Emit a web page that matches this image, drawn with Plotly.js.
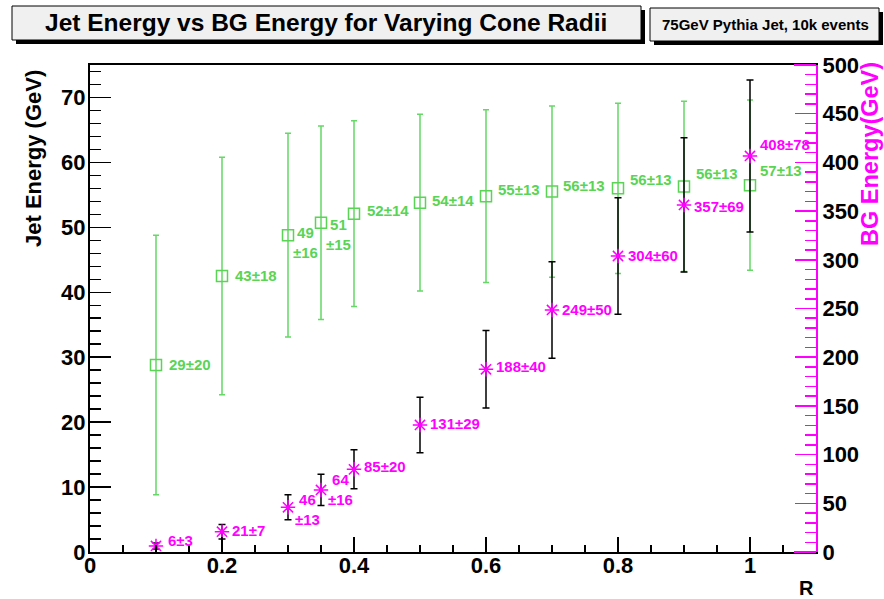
<!DOCTYPE html>
<html>
<head>
<meta charset="utf-8">
<script src="https://cdn.plot.ly/plotly-3.0.1.min.js"></script>
<style>html,body{margin:0;padding:0;background:#fff;}#chart{width:884px;height:599px;}</style>
</head>
<body>
<div id="chart"></div>
<script>
// ---- data ----
const R = [0.1, 0.2, 0.3, 0.35, 0.4, 0.5, 0.6, 0.7, 0.8, 0.9, 1.0];
const jetE = [28.8, 42.5, 48.8, 50.7, 52.1, 53.8, 54.8, 55.5, 56.0, 56.3, 56.5];
const jetErr = [20.0, 18.3, 15.7, 14.9, 14.3, 13.6, 13.3, 13.2, 13.1, 13.1, 13.1];
const jetLabels = ['29±20', '43±18', '49<br>±16', '51<br>±15', '52±14', '54±14', '55±13', '56±13', '56±13', '56±13', '57±13'];
const bgE = [6.2, 20.8, 45.9, 63.7, 84.9, 130.4, 187.6, 248.5, 303.9, 356.3, 406.6];
const bgErr = [3, 7.5, 12.8, 16, 20, 28.6, 39.7, 49.6, 59.9, 68.9, 78];
const bgLabels = ['6±3', '21±7', '46<br>±13', '64<br>±16', '85±20', '131±29', '188±40', '249±50', '304±60', '357±69', '408±78'];

// ---- label placement style (pixel nudges) ----
const jetDx = [11, 11, 3, 3, 11, 10, 10, 9, 10, 10, 8];
const jetDy = [0, 1, -7, -12, 3, 2, 7, 6, 9, 13, 15];
const bgDx = [10, 8, 5, 5, 8, 8, 8, 8, 8, 8, 8];
const bgDy = [5, 1, -2, 0, 3, 1, 3, 0, 1, -2, 11];

const FONT = 'Liberation Sans, Arial, Helvetica, sans-serif';
const GREEN = '#59d454';
const MAG = '#ff00ff';

// plot area in pixels
const PL = 90, PR = 816, PT = 65, PB = 552;
const fx = p => (p - PL) / (PR - PL);
const fy = p => (PB - p) / (PB - PT);

const traces = [
  {
    x: R, y: jetE, type: 'scatter', mode: 'markers', yaxis: 'y',
    marker: {symbol: 'square-open', size: 11, color: GREEN, line: {width: 1.5, color: GREEN}},
    error_y: {type: 'data', array: jetErr, visible: true, color: '#66d866', thickness: 1.5, width: 3},
    hoverinfo: 'skip'
  },
  {
    x: R, y: bgE, type: 'scatter', mode: 'markers', yaxis: 'y2',
    marker: {symbol: 'asterisk-open', size: 12, color: MAG, line: {width: 1.5, color: MAG}},
    error_y: {type: 'data', array: bgErr, visible: true, color: '#000', thickness: 1.5, width: 3.5},
    hoverinfo: 'skip'
  }
];

const annotations = [];
R.forEach((r, i) => {
  annotations.push({
    x: r, y: jetE[i], xref: 'x', yref: 'y', text: jetLabels[i], showarrow: false,
    xanchor: 'left', yanchor: 'middle', align: 'center', xshift: jetDx[i], yshift: jetDy[i],
    font: {family: FONT, size: 15, color: GREEN, weight: 'bold'}
  });
  annotations.push({
    x: r, y: bgE[i], xref: 'x', yref: 'y2', text: bgLabels[i], showarrow: false,
    xanchor: 'left', yanchor: 'middle', align: 'center', xshift: bgDx[i], yshift: bgDy[i],
    font: {family: FONT, size: 15, color: MAG, weight: 'bold'}
  });
});

// titles
annotations.push({
  xref: 'paper', yref: 'paper', x: fx(326), y: fy(23), text: 'Jet Energy vs BG Energy for Varying Cone Radii',
  showarrow: false, xanchor: 'center', yanchor: 'middle',
  font: {family: FONT, size: 24.5, color: '#000', weight: 'bold'}
});
annotations.push({
  xref: 'paper', yref: 'paper', x: fx(765), y: fy(25), text: '75GeV Pythia Jet, 10k events',
  showarrow: false, xanchor: 'center', yanchor: 'middle',
  font: {family: FONT, size: 15, color: '#000', weight: 'bold'}
});
annotations.push({
  xref: 'paper', yref: 'paper', x: fx(33), y: fy(159), text: 'Jet Energy (GeV)', textangle: -90,
  showarrow: false, xanchor: 'center', yanchor: 'middle',
  font: {family: FONT, size: 22, color: '#000', weight: 'bold'}
});
annotations.push({
  xref: 'paper', yref: 'paper', x: fx(870), y: fy(154), text: 'BG Energy(GeV)', textangle: -90,
  showarrow: false, xanchor: 'center', yanchor: 'middle',
  font: {family: FONT, size: 23.5, color: MAG, weight: 'bold'}
});
annotations.push({
  xref: 'paper', yref: 'paper', x: fx(806), y: fy(588), text: 'R',
  showarrow: false, xanchor: 'center', yanchor: 'middle',
  font: {family: FONT, size: 20, color: '#000', weight: 'bold'}
});

const shapes = [
  // title box shadow + box
  {type: 'rect', xref: 'paper', yref: 'paper', x0: fx(16), x1: fx(645), y0: fy(44), y1: fy(10), fillcolor: '#000', line: {width: 0}, layer: 'above'},
  {type: 'rect', xref: 'paper', yref: 'paper', x0: fx(12), x1: fx(641), y0: fy(40), y1: fy(6), fillcolor: '#f0f0f0', line: {width: 1, color: '#000'}, layer: 'above'},
  {type: 'rect', xref: 'paper', yref: 'paper', x0: fx(654), x1: fx(883), y0: fy(45), y1: fy(12), fillcolor: '#000', line: {width: 0}, layer: 'above'},
  {type: 'rect', xref: 'paper', yref: 'paper', x0: fx(650), x1: fx(879), y0: fy(41), y1: fy(8), fillcolor: '#f0f0f0', line: {width: 1, color: '#000'}, layer: 'above'},
  // magenta overlay segments of the frame
  {type: 'line', xref: 'paper', yref: 'paper', x0: fx(794), x1: 1, y0: 0, y1: 0, line: {width: 2, color: MAG}, layer: 'above'},
  {type: 'line', xref: 'paper', yref: 'paper', x0: fx(794), x1: 1, y0: 1, y1: 1, line: {width: 2, color: MAG}, layer: 'above'}
];

const tickFont = {family: FONT, size: 22, color: '#000', weight: 'bold'};

const layout = {
  width: 884, height: 599,
  margin: {l: PL, r: 884 - PR, t: PT, b: 599 - PB, pad: 0},
  paper_bgcolor: '#fff', plot_bgcolor: '#fff',
  showlegend: false,
  font: {family: FONT},
  xaxis: {
    range: [0, 1.1], dtick: 0.2, tick0: 0, ticks: 'inside', ticklen: 15, tickwidth: 1.5, tickcolor: '#000',
    minor: {dtick: 0.05, tick0: 0, ticks: 'inside', ticklen: 7, tickwidth: 1.5, tickcolor: '#000'},
    showline: true, linecolor: '#000', linewidth: 2, mirror: true, ticklabelstandoff: -7,
    showgrid: false, zeroline: false, tickfont: tickFont, automargin: false, fixedrange: true
  },
  yaxis: {
    range: [0, 75], dtick: 10, tick0: 0, ticks: 'inside', ticklen: 21, tickwidth: 1.5, tickcolor: '#000',
    minor: {dtick: 2, tick0: 0, ticks: 'inside', ticklen: 11, tickwidth: 1.5, tickcolor: '#000'},
    showline: true, linecolor: '#000', linewidth: 2, ticklabelstandoff: -2,
    showgrid: false, zeroline: false, tickfont: tickFont, automargin: false, fixedrange: true
  },
  yaxis2: {
    range: [0, 500], dtick: 50, tick0: 0, overlaying: 'y', side: 'right',
    ticks: 'inside', ticklen: 21, tickwidth: 1.5, tickcolor: MAG,
    minor: {dtick: 10, tick0: 0, ticks: 'inside', ticklen: 11, tickwidth: 1.5, tickcolor: MAG},
    showline: true, linecolor: MAG, linewidth: 2,
    showgrid: false, zeroline: false, tickfont: tickFont, automargin: false, fixedrange: true
  },
  annotations: annotations,
  shapes: shapes
};

Plotly.newPlot('chart', traces, layout, {staticPlot: true, displayModeBar: false});
</script>
</body>
</html>
